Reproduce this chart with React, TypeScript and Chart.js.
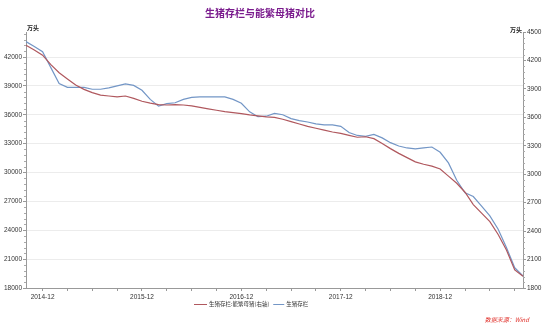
import React, { useEffect, useRef } from 'react';
import { Chart, registerables } from 'chart.js';
Chart.register(...registerables);

const months = [
  '2014-10','2014-11','2014-12',
  '2015-01','2015-02','2015-03','2015-04','2015-05','2015-06','2015-07','2015-08','2015-09','2015-10','2015-11','2015-12',
  '2016-01','2016-02','2016-03','2016-04','2016-05','2016-06','2016-07','2016-08','2016-09','2016-10','2016-11','2016-12',
  '2017-01','2017-02','2017-03','2017-04','2017-05','2017-06','2017-07','2017-08','2017-09','2017-10','2017-11','2017-12',
  '2018-01','2018-02','2018-03','2018-04','2018-05','2018-06','2018-07','2018-08','2018-09','2018-10','2018-11','2018-12',
  '2019-01','2019-02','2019-03','2019-04','2019-05','2019-06','2019-07','2019-08','2019-09','2019-10',
];

// 生猪存栏 (万头, left axis)
const hogStock = [
  43600, 43100, 42550, 40900, 39250, 38850, 38850, 38850, 38650, 38650,
  38800, 39000, 39200, 39050, 38550, 37600, 36900, 37150, 37250, 37600,
  37800, 37850, 37850, 37850, 37850, 37600, 37200, 36300, 35800, 35850,
  36150, 36000, 35600, 35400, 35250, 35050, 34950, 34950, 34800, 34150,
  33850, 33750, 33950, 33600, 33100, 32750, 32550, 32450, 32550, 32650,
  32100, 31000, 29200, 27900, 27500, 26500, 25500, 24100, 22200, 20100,
  19250,
];

// 生猪存栏:能繁母猪 (万头, right axis)
const sowStock = [
  4360, 4310, 4255, 4155, 4070, 4005, 3940, 3895, 3860, 3835,
  3825, 3815, 3825, 3800, 3770, 3750, 3735, 3730, 3733, 3730,
  3720, 3705, 3690, 3675, 3660, 3650, 3640, 3625, 3615, 3605,
  3600, 3580, 3555, 3530, 3505, 3485, 3465, 3445, 3430, 3410,
  3390, 3395, 3375, 3325, 3270, 3220, 3175, 3130, 3105, 3085,
  3055, 2980, 2905, 2810, 2680, 2590, 2500, 2365, 2200, 1990,
  1925,
];

const leftTicks = [18000, 21000, 24000, 27000, 30000, 33000, 36000, 39000, 42000];
const rightTicks = [1800, 2100, 2400, 2700, 3000, 3300, 3600, 3900, 4200, 4500];

const titleText = '生猪存栏与能繁母猪对比';
const sowLabel = '生猪存栏:能繁母猪(右轴)';
const hogLabel = '生猪存栏';
const unitText = '万头';
const sourceText = '数据来源：Wind';

const RED = '#b0585e';
const BLUE = '#7396c6';
const FONT = '"Liberation Sans", Arial, sans-serif';
const CJK = '"Noto Sans CJK SC", sans-serif';

const decor = {
  id: 'decor',
  afterDraw(chart: any) {
    const ctx = chart.ctx;
    const area = chart.chartArea;
    const yl = chart.scales.y;
    const yr = chart.scales.y1;
    ctx.save();
    // minor ticks on both value axes
    ctx.strokeStyle = '#aaa';
    ctx.lineWidth = 1;
    ctx.beginPath();
    for (let k = 1; k < 45; k++) {
      const v = 18000 + k * 600;
      if (v > 44600 || v % 3000 === 0) continue;
      const py = Math.round(yl.getPixelForValue(v)) + 0.5;
      ctx.moveTo(area.left - 2, py); ctx.lineTo(area.left, py);
    }
    for (let k = 1; k < 45; k++) {
      const v = 1800 + k * 60;
      if (v > 4500 || v % 300 === 0) continue;
      const py = Math.round(yr.getPixelForValue(v)) + 0.5;
      ctx.moveTo(area.right, py); ctx.lineTo(area.right + 2, py);
    }
    ctx.stroke();
    // title
    ctx.font = `bold 10px ${CJK}`;
    ctx.fillStyle = '#7b1c8e';
    ctx.textAlign = 'center';
    ctx.textBaseline = 'middle';
    ctx.fillText(titleText, 260, 13);
    // unit labels
    ctx.font = `bold 6px ${CJK}`;
    ctx.fillStyle = '#222';
    ctx.textAlign = 'left';
    ctx.fillText(unitText, area.left + 1, area.top - 4);
    ctx.textAlign = 'right';
    ctx.fillText(unitText, area.right - 1, area.top - 2);
    // legend
    const ly = 304;
    ctx.font = `5.5px ${CJK}`;
    ctx.textAlign = 'left';
    ctx.lineWidth = 1;
    let x = 194;
    ctx.strokeStyle = RED;
    ctx.beginPath(); ctx.moveTo(x, ly + 0.5); ctx.lineTo(x + 13, ly + 0.5); ctx.stroke();
    ctx.fillStyle = '#333';
    ctx.fillText(sowLabel, x + 15, ly);
    x = x + 15 + ctx.measureText(sowLabel).width + 4;
    ctx.strokeStyle = BLUE;
    ctx.beginPath(); ctx.moveTo(x, ly + 0.5); ctx.lineTo(x + 11, ly + 0.5); ctx.stroke();
    ctx.fillText(hogLabel, x + 13, ly);
    // source
    ctx.font = `italic 6px ${CJK}`;
    ctx.fillStyle = '#e0302a';
    ctx.textAlign = 'right';
    ctx.fillText(sourceText, 529, 320);
    ctx.restore();
  },
};

export default function App() {
  const ref = useRef<HTMLCanvasElement>(null);
  useEffect(() => {
    const canvas = ref.current!;
    const chart = new Chart(canvas, {
      type: 'line',
      data: {
        labels: months,
        datasets: [
          {
            label: sowLabel,
            data: sowStock,
            yAxisID: 'y1',
            borderColor: RED,
            backgroundColor: RED,
            borderWidth: 1.2,
            pointRadius: 0,
            tension: 0,
          },
          {
            label: hogLabel,
            data: hogStock,
            yAxisID: 'y',
            borderColor: BLUE,
            backgroundColor: BLUE,
            borderWidth: 1.2,
            pointRadius: 0,
            tension: 0,
          },
        ],
      },
      options: {
        animation: false,
        responsive: false,
        layout: { padding: { top: 32, bottom: 25, left: 0, right: 0 } },
        plugins: {
          legend: { display: false },
          title: { display: false },
          tooltip: { enabled: false },
        },
        scales: {
          x: {
            type: 'category',
            offset: false,
            border: { display: true, color: '#999' },
            grid: {
              display: true,
              drawOnChartArea: false,
              drawTicks: true,
              tickLength: 3,
              tickColor: '#999',
            },
            ticks: {
              autoSkip: false,
              maxRotation: 0,
              padding: 2,
              color: '#333',
              font: (c: any) => ({ family: FONT, size: 6.5, weight: c.index === 2 ? 'bold' : 'normal' }),
              callback: (_v: any, i: number) => {
                const m = months[i];
                const mm = m.slice(5);
                if (mm === '12') return m;
                if (mm === '03' || mm === '06' || mm === '09') return '';
                return null;
              },
            },
            afterFit: (s: any) => { s.height = 18; },
          },
          y: {
            type: 'linear',
            position: 'left',
            min: 18000,
            max: 44600,
            border: { display: true, color: '#999' },
            grid: { color: '#ececec', tickColor: '#999', tickLength: 3, drawTicks: true },
            ticks: {
              color: '#333', padding: 1, font: { family: FONT, size: 6.5 },
              callback: (v: any) => String(v),
            },
            afterBuildTicks: (s: any) => { s.ticks = leftTicks.map((v) => ({ value: v })); },
            afterFit: (s: any) => { s.width = 26; },
          },
          y1: {
            type: 'linear',
            position: 'right',
            min: 1800,
            max: 4500,
            border: { display: true, color: '#999' },
            grid: { drawOnChartArea: false, tickColor: '#999', tickLength: 3, drawTicks: true },
            ticks: {
              color: '#333', padding: 1, font: { family: FONT, size: 6.5 },
              callback: (v: any) => String(v),
            },
            afterBuildTicks: (s: any) => { s.ticks = rightTicks.map((v) => ({ value: v })); },
            afterFit: (s: any) => { s.width = 27; },
          },
        },
      },
      plugins: [decor],
    } as any);
    return () => chart.destroy();
  }, []);
  return (
    <div style={{ position: 'absolute', left: 0, top: 0, width: 550, height: 331, background: '#fff' }}>
      <canvas ref={ref} width={550} height={331} style={{ width: 550, height: 331, display: 'block' }} />
    </div>
  );
}
